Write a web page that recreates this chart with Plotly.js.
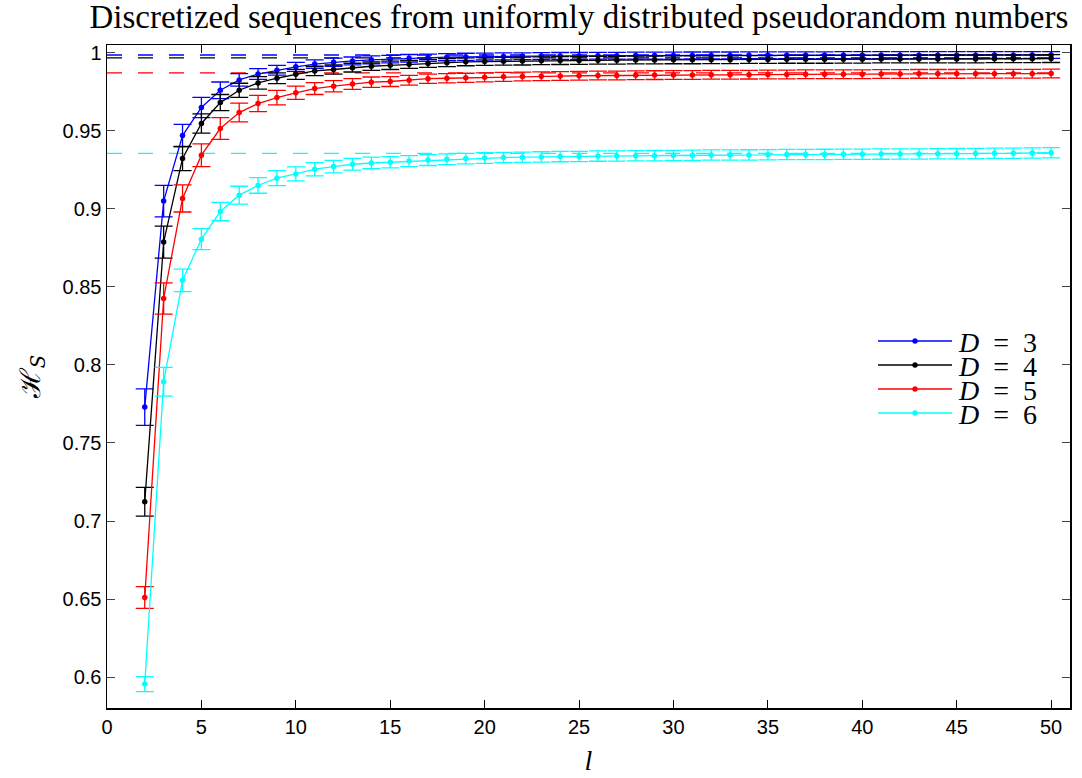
<!DOCTYPE html>
<html>
<head>
<meta charset="utf-8">
<script src="https://cdn.plot.ly/plotly-3.0.1.min.js"></script>
<style>html,body{margin:0;padding:0;background:#fff;}#chart{width:1082px;height:778px;}</style>
</head>
<body>
<div id="chart"></div>
<script>
const lValues = [2,3,4,5,6,7,8,9,10,11,12,13,14,15,16,17,18,19,20,21,22,23,24,25,26,27,28,29,30,31,32,33,34,35,36,37,38,39,40,41,42,43,44,45,46,47,48,49,50];

const seriesNames = ["<i>D</i>  =  3", "<i>D</i>  =  4", "<i>D</i>  =  5", "<i>D</i>  =  6"];
const seriesColors = ["#0000ff", "#000000", "#ff0000", "#00ffff"];

const hD3 = [0.773,0.905,0.947,0.965,0.976,0.9826,0.9864,0.9888,0.9910,0.9928,0.9940,0.9948,0.9955,0.9960,0.9965,0.9969,0.9972,0.9974,0.9976,0.9977,0.9978,0.9979,0.9980,0.9980,0.9981,0.9981,0.9982,0.9982,0.9982,0.9983,0.9983,0.9983,0.9984,0.9984,0.9984,0.9984,0.9984,0.9985,0.9985,0.9985,0.9985,0.9985,0.9985,0.9985,0.9985,0.9986,0.9985,0.9986,0.9986];
const hD4 = [0.7124,0.8787,0.9323,0.9547,0.9681,0.9760,0.9807,0.9837,0.9862,0.9884,0.9893,0.9905,0.9914,0.9920,0.9926,0.9932,0.9937,0.9942,0.9944,0.9946,0.9947,0.9949,0.9950,0.9951,0.9952,0.9953,0.9954,0.9954,0.9955,0.9955,0.9956,0.9956,0.9957,0.9957,0.9958,0.9958,0.9958,0.9959,0.9959,0.9960,0.9960,0.9960,0.9961,0.9961,0.9961,0.9962,0.9962,0.9962,0.9963];
const hD5 = [0.651,0.8426,0.9067,0.9344,0.9515,0.9617,0.9675,0.9713,0.9744,0.9771,0.9786,0.9800,0.9812,0.9816,0.9824,0.9834,0.9837,0.9840,0.9843,0.9846,0.9848,0.9850,0.9851,0.9853,0.9854,0.9855,0.9856,0.9857,0.9858,0.9858,0.9859,0.9859,0.9860,0.9861,0.9861,0.9862,0.9862,0.9863,0.9863,0.9864,0.9864,0.9865,0.9865,0.9865,0.9866,0.9866,0.9866,0.9866,0.9867];
const hD6 = [0.5955,0.7892,0.8542,0.8806,0.8983,0.9088,0.9150,0.9197,0.9224,0.9254,0.9271,0.9286,0.9294,0.9299,0.9306,0.9313,0.9318,0.9322,0.9326,0.9329,0.9331,0.9333,0.9335,0.9336,0.9338,0.9339,0.9340,0.9341,0.9342,0.9343,0.9345,0.9345,0.9346,0.9347,0.9348,0.9348,0.9349,0.9350,0.9350,0.9351,0.9352,0.9352,0.9353,0.9354,0.9355,0.9356,0.9356,0.9358,0.9360];

const eD3 = [0.0117,0.0101,0.0072,0.0065,0.0053,0.0040,0.0034,0.0031,0.0029,0.0027,0.0026,0.0025,0.0025,0.0024,0.0024,0.0023,0.0023,0.0023,0.0022,0.0022,0.0022,0.0022,0.0022,0.0022,0.0022,0.0022,0.0022,0.0022,0.0022,0.0022,0.0022,0.0022,0.0022,0.0022,0.0022,0.0022,0.0022,0.0022,0.0022,0.0022,0.0022,0.0022,0.0022,0.0022,0.0022,0.0022,0.0022,0.0022,0.0022];
const eD4 = [0.0092,0.0102,0.0078,0.0062,0.0052,0.0045,0.0040,0.0035,0.0032,0.0030,0.0029,0.0028,0.0027,0.0027,0.0026,0.0026,0.0026,0.0025,0.0025,0.0025,0.0025,0.0025,0.0025,0.0025,0.0025,0.0025,0.0025,0.0025,0.0025,0.0025,0.0025,0.0025,0.0025,0.0025,0.0025,0.0025,0.0025,0.0025,0.0025,0.0025,0.0025,0.0025,0.0025,0.0025,0.0025,0.0025,0.0025,0.0025,0.0025];
const eD5 = [0.0070,0.0100,0.0087,0.0073,0.0070,0.0060,0.0052,0.0046,0.0042,0.0038,0.0036,0.0034,0.0033,0.0032,0.0031,0.0030,0.0030,0.0029,0.0029,0.0029,0.0028,0.0028,0.0028,0.0028,0.0028,0.0028,0.0028,0.0028,0.0028,0.0028,0.0028,0.0028,0.0028,0.0028,0.0028,0.0028,0.0028,0.0028,0.0028,0.0028,0.0028,0.0028,0.0028,0.0028,0.0028,0.0028,0.0028,0.0028,0.0028];
const eD6 = [0.0048,0.0092,0.0072,0.0067,0.0059,0.0057,0.0050,0.0048,0.0045,0.0042,0.0040,0.0038,0.0037,0.0036,0.0035,0.0035,0.0034,0.0034,0.0034,0.0033,0.0033,0.0033,0.0033,0.0033,0.0033,0.0033,0.0033,0.0033,0.0033,0.0033,0.0033,0.0033,0.0033,0.0033,0.0033,0.0033,0.0033,0.0033,0.0033,0.0033,0.0033,0.0033,0.0033,0.0033,0.0033,0.0033,0.0033,0.0033,0.0033];

const limitValues = [0.9986, 0.9967, 0.9871, 0.9355];

const xTickVals = [0,5,10,15,20,25,30,35,40,45,50];
const yTickVals = [0.6,0.65,0.7,0.75,0.8,0.85,0.9,0.95,1];
const yTickText = ["0.6","0.65","0.7","0.75","0.8","0.85","0.9","0.95","1"];

const seriesY = [hD3, hD4, hD5, hD6];
const seriesE = [eD3, eD4, eD5, eD6];

const traces = seriesY.map((ys, i) => ({
  type: 'scatter',
  mode: 'lines+markers',
  x: lValues,
  y: ys,
  name: seriesNames[i],
  showlegend: false,
  line: {color: seriesColors[i], width: 1.3},
  marker: {color: seriesColors[i], size: 5.5},
  error_y: {type: 'data', array: seriesE[i], visible: true, color: seriesColors[i], thickness: 1.3, width: 9}
}));

const shapes = limitValues.map((v, i) => ({
  type: 'line', xref: 'x', yref: 'y',
  x0: 0, x1: 50.5, y0: v, y1: v,
  line: {color: seriesColors[i], width: 1.3, dash: '15px,16px'},
  layer: 'below'
}));

// Legend (drawn manually to match compact spacing of the reference)
const plotL = 107, plotR = 1070, plotT = 45, plotB = 708;
const px2x = p => (p - plotL) / (plotR - plotL);
const px2y = p => (plotB - p) / (plotB - plotT);
const legendRows = [341, 365, 389, 413];
const annotations = [];
legendRows.forEach((py, i) => {
  shapes.push({
    type: 'line', xref: 'paper', yref: 'paper',
    x0: px2x(878), x1: px2x(952), y0: px2y(py), y1: px2y(py),
    line: {color: seriesColors[i], width: 1.3}
  });
  shapes.push({
    type: 'circle', xref: 'paper', yref: 'paper',
    x0: px2x(912.5), x1: px2x(917.5), y0: px2y(py + 2.5), y1: px2y(py - 2.5),
    fillcolor: seriesColors[i], line: {color: seriesColors[i], width: 0.5}
  });
  annotations.push({
    xref: 'paper', yref: 'paper', x: px2x(956), y: px2y(py + 1),
    xanchor: 'left', yanchor: 'middle', showarrow: false,
    height: 24, valign: 'middle',
    text: seriesNames[i].replace(/  /g, '&nbsp; '),
    font: {family: 'Liberation Serif, DejaVu Serif, serif', size: 28, color: '#000'}
  });
});

const layout = {
  width: 1082, height: 778,
  margin: {l: plotL, r: 1082 - plotR, t: plotT, b: 778 - plotB},
  paper_bgcolor: '#fff', plot_bgcolor: '#fff',
  showlegend: false,
  title: {
    text: 'Discretized sequences from uniformly distributed pseudorandom numbers',
    font: {family: 'Liberation Serif, DejaVu Serif, serif', size: 33, color: '#000'},
    x: 0.535, xanchor: 'center', y: 0.979, yanchor: 'middle'
  },
  xaxis: {
    range: [0, 51], tickvals: xTickVals, ticktext: xTickVals.map(String),
    ticks: 'inside', ticklen: 8, tickwidth: 1, tickcolor: '#000',
    showline: true, linecolor: '#000', linewidth: 1.5, mirror: 'ticks',
    showgrid: false, zeroline: false,
    tickfont: {family: 'Liberation Sans, Arial, sans-serif', size: 20, color: '#000'},
    title: {text: '<i>l</i>', font: {family: 'Liberation Serif, DejaVu Serif, serif', size: 28, color: '#000'}, standoff: 14}
  },
  yaxis: {
    range: [0.5802, 1.005], tickvals: yTickVals, ticktext: yTickText,
    ticks: 'inside', ticklen: 8, tickwidth: 1, tickcolor: '#444',
    showline: true, linecolor: '#000', linewidth: 1.5, mirror: 'ticks',
    showgrid: false, zeroline: false,
    tickfont: {family: 'Liberation Sans, Arial, sans-serif', size: 20, color: '#000'},
    title: {text: 'ℋ<sub><i>S</i></sub>', font: {family: 'DejaVu Serif, Liberation Serif, serif', size: 28, color: '#000'}, standoff: 14}
  },
  shapes: shapes,
  annotations: annotations
};

Plotly.newPlot('chart', traces, layout, {displayModeBar: false, staticPlot: true});
</script>
</body>
</html>
